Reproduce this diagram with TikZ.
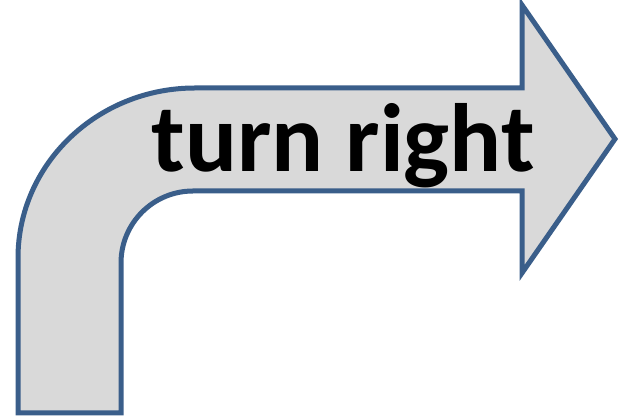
\documentclass[tikz,border=0pt]{standalone}
\usepackage{fontspec}
\setmainfont{Carlito}
\tikzset{
  bentarrow/.style={fill={rgb,255:red,217;green,217;blue,217}, draw={rgb,255:red,58;green,94;blue,138}, line width=5pt, line join=miter},
  label/.style={font=\bfseries\fontsize{97pt}{110pt}\selectfont, text=black, inner sep=0pt, anchor=base}
}
\begin{document}
\begin{tikzpicture}[x=1pt,y=1pt]
\useasboundingbox (0,0) rectangle (619,417);
\draw[bentarrow] (18,4) -- (121,4) -- (121,154)
  arc[start angle=180, end angle=90, radius=72] -- (522,226) -- (522,144)
  -- (615,278) -- (522,412) -- (522,329) -- (195,329)
  arc[start angle=90, end angle=180, x radius=177, y radius=170] -- cycle;
\node[label] (txt) at (343,245) {turn right};
\end{tikzpicture}
\end{document}
